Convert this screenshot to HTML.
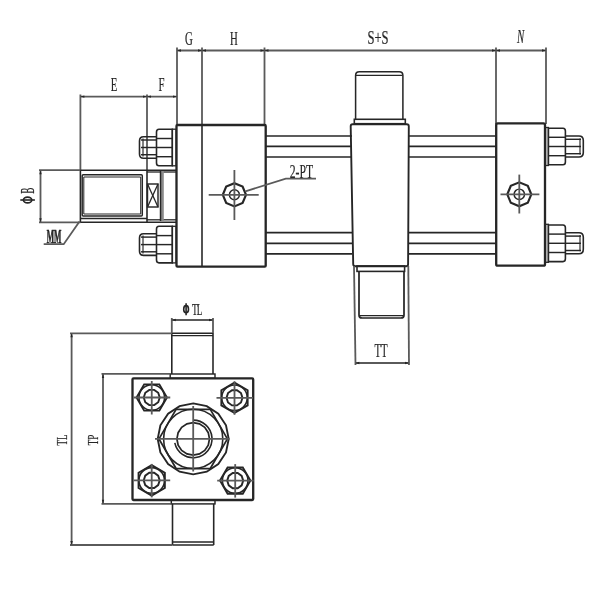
<!DOCTYPE html>
<html><head><meta charset="utf-8"><style>
html,body{margin:0;padding:0;background:#fff;}
body{width:600px;height:600px;overflow:hidden;font-family:"Liberation Serif",serif;}
svg{display:block;will-change:transform}
</style></head><body>
<svg width="600" height="600" viewBox="0 0 600 600">
<rect width="600" height="600" fill="#fff"/>
<g>
<line x1="177" y1="50.5" x2="546" y2="50.5" stroke="#5a5a5a" stroke-width="1.81" />
<line x1="177" y1="47.5" x2="177" y2="124" stroke="#5a5a5a" stroke-width="1.81" />
<line x1="264.5" y1="47.5" x2="264.5" y2="124" stroke="#5a5a5a" stroke-width="1.81" />
<line x1="496" y1="47.5" x2="496" y2="124" stroke="#5a5a5a" stroke-width="1.81" />
<line x1="546" y1="47.5" x2="546" y2="124" stroke="#5a5a5a" stroke-width="1.81" />
<line x1="202" y1="47.5" x2="202" y2="125" stroke="#5a5a5a" stroke-width="1.81" />
<line x1="202" y1="125" x2="202" y2="266" stroke="#262626" stroke-width="1.59" />
<polygon points="177.00,50.50 181.00,49.30 181.00,51.70" fill="#262626"/>
<polygon points="202.00,50.50 198.00,49.30 198.00,51.70" fill="#262626"/>
<polygon points="202.00,50.50 206.00,49.30 206.00,51.70" fill="#262626"/>
<polygon points="264.50,50.50 260.50,49.30 260.50,51.70" fill="#262626"/>
<polygon points="264.50,50.50 268.50,49.30 268.50,51.70" fill="#262626"/>
<polygon points="496.00,50.50 492.00,49.30 492.00,51.70" fill="#262626"/>
<polygon points="496.00,50.50 500.00,49.30 500.00,51.70" fill="#262626"/>
<polygon points="546.00,50.50 542.00,49.30 542.00,51.70" fill="#262626"/>
<text transform="translate(189,45) rotate(0) scale(0.6,1)" font-family="Liberation Serif" font-size="18" text-anchor="middle" fill="#262626" stroke="#262626" stroke-width="0.2" >G</text>
<text transform="translate(234,45) rotate(0) scale(0.6,1)" font-family="Liberation Serif" font-size="18" text-anchor="middle" fill="#262626" stroke="#262626" stroke-width="0.2" >H</text>
<text transform="translate(378,44) rotate(0) scale(0.7,1)" font-family="Liberation Serif" font-size="18" text-anchor="middle" fill="#262626" stroke="#262626" stroke-width="0.2" >S+S</text>
<text transform="translate(520.7,43) rotate(0) scale(0.6,1)" font-family="Liberation Serif" font-size="18" text-anchor="middle" fill="#262626" stroke="#262626" stroke-width="0.2" font-style="italic">N</text>
<line x1="80.4" y1="96.6" x2="177" y2="96.6" stroke="#5a5a5a" stroke-width="1.81" />
<line x1="80.4" y1="94.5" x2="80.4" y2="170" stroke="#5a5a5a" stroke-width="1.81" />
<line x1="80.4" y1="170" x2="80.4" y2="222.5" stroke="#262626" stroke-width="1.59" />
<line x1="147" y1="94.5" x2="147" y2="170" stroke="#5a5a5a" stroke-width="1.81" />
<line x1="147" y1="170" x2="147" y2="222.5" stroke="#262626" stroke-width="1.59" />
<polygon points="80.40,96.60 84.40,95.40 84.40,97.80" fill="#262626"/>
<polygon points="147.00,96.60 143.00,95.40 143.00,97.80" fill="#262626"/>
<polygon points="147.00,96.60 151.00,95.40 151.00,97.80" fill="#262626"/>
<polygon points="177.00,96.60 173.00,95.40 173.00,97.80" fill="#262626"/>
<text transform="translate(114,90.5) rotate(0) scale(0.6,1)" font-family="Liberation Serif" font-size="18" text-anchor="middle" fill="#262626" stroke="#262626" stroke-width="0.2" >E</text>
<text transform="translate(161.6,90.5) rotate(0) scale(0.6,1)" font-family="Liberation Serif" font-size="18" text-anchor="middle" fill="#262626" stroke="#262626" stroke-width="0.2" >F</text>
<line x1="39" y1="170.2" x2="80.4" y2="170.2" stroke="#5a5a5a" stroke-width="1.81" />
<line x1="80.4" y1="170.2" x2="176" y2="170.2" stroke="#262626" stroke-width="1.59" />
<line x1="39" y1="222.3" x2="80.4" y2="222.3" stroke="#5a5a5a" stroke-width="1.81" />
<line x1="80.4" y1="222.3" x2="176" y2="222.3" stroke="#262626" stroke-width="1.59" />
<line x1="40.5" y1="170.2" x2="40.5" y2="222.3" stroke="#5a5a5a" stroke-width="1.81" />
<polygon points="40.50,170.20 39.30,174.20 41.70,174.20" fill="#262626"/>
<polygon points="40.50,222.30 39.30,218.30 41.70,218.30" fill="#262626"/>
<text transform="translate(33.6,190.7) rotate(-90) scale(0.47,1)" font-family="Liberation Serif" font-size="19.4" text-anchor="middle" fill="#262626" stroke="#262626" stroke-width="0.2" >B</text>
<ellipse cx="27.6" cy="200" rx="4.2" ry="2.9" fill="none" stroke="#262626" stroke-width="1.6"/>
<line x1="20.3" y1="200" x2="34.9" y2="200" stroke="#262626" stroke-width="1.60" />
<text transform="translate(54,243) rotate(0) scale(0.4,1)" font-family="Liberation Serif" font-size="19.5" text-anchor="middle" fill="#262626"  font-weight="bold" stroke="#262626" stroke-width="0.7">MM</text>
<path d="M43.7,244.2 L63.7,244.2 L79.5,221.5" fill="none" stroke="#5a5a5a" stroke-width="1.81"/>
<rect x="82.2" y="174.8" width="60.1" height="41.2" rx="1" fill="none" stroke="#262626" stroke-width="1.45"/>
<line x1="83.8" y1="176.9" x2="140.7" y2="176.9" stroke="#262626" stroke-width="1.01" />
<line x1="83.8" y1="214.1" x2="140.7" y2="214.1" stroke="#262626" stroke-width="1.01" />
<line x1="83.8" y1="176.9" x2="83.8" y2="214.1" stroke="#262626" stroke-width="1.01" />
<line x1="140.7" y1="176.9" x2="140.7" y2="214.1" stroke="#262626" stroke-width="1.01" />
<line x1="80.4" y1="218.5" x2="147" y2="218.5" stroke="#262626" stroke-width="1.45" />
<line x1="147" y1="172" x2="176" y2="172" stroke="#262626" stroke-width="1.30" />
<line x1="147" y1="219.8" x2="176" y2="219.8" stroke="#262626" stroke-width="1.30" />
<rect x="147.5" y="184" width="10.5" height="23" rx="0" fill="none" stroke="#262626" stroke-width="1.45"/>
<line x1="147.5" y1="184" x2="158" y2="207" stroke="#262626" stroke-width="1.30" />
<line x1="158" y1="184" x2="147.5" y2="207" stroke="#262626" stroke-width="1.30" />
<rect x="160.5" y="171" width="3.3" height="50" fill="#8a8a8a"/>
<line x1="160.5" y1="171" x2="160.5" y2="221" stroke="#262626" stroke-width="1.45" />
<rect x="176.5" y="125" width="89.2" height="141.7" rx="1" fill="none" stroke="#262626" stroke-width="2.32"/>
<polygon points="246.00,194.80 242.60,203.00 234.40,206.40 226.20,203.00 222.80,194.80 226.20,186.60 234.40,183.20 242.60,186.60" fill="none" stroke="#262626" stroke-width="2.17"/>
<circle cx="234.4" cy="194.8" r="5.0" fill="none" stroke="#262626" stroke-width="1.45"/>
<line x1="208.7" y1="194.8" x2="258.7" y2="194.8" stroke="#5a5a5a" stroke-width="1.81" />
<line x1="234.4" y1="170" x2="234.4" y2="220" stroke="#5a5a5a" stroke-width="1.81" />
<path d="M245.4,191.3 L285.8,178.7 L316,178.7" fill="none" stroke="#5a5a5a" stroke-width="1.81"/>
<text transform="translate(301.4,177.6) rotate(0) scale(0.6,1)" font-family="Liberation Serif" font-size="19.5" text-anchor="middle" fill="#262626" stroke="#262626" stroke-width="0.2" >2-PT</text>
<line x1="265.6" y1="136" x2="352" y2="136" stroke="#262626" stroke-width="1.74" />
<line x1="408.5" y1="136" x2="496" y2="136" stroke="#262626" stroke-width="1.74" />
<line x1="265.6" y1="146.3" x2="352" y2="146.3" stroke="#262626" stroke-width="1.74" />
<line x1="408.5" y1="146.3" x2="496" y2="146.3" stroke="#262626" stroke-width="1.74" />
<line x1="265.6" y1="157" x2="352" y2="157" stroke="#262626" stroke-width="1.74" />
<line x1="408.5" y1="157" x2="496" y2="157" stroke="#262626" stroke-width="1.74" />
<line x1="265.6" y1="232.6" x2="352" y2="232.6" stroke="#262626" stroke-width="1.74" />
<line x1="408.5" y1="232.6" x2="496" y2="232.6" stroke="#262626" stroke-width="1.74" />
<line x1="265.6" y1="243.3" x2="352" y2="243.3" stroke="#262626" stroke-width="1.74" />
<line x1="408.5" y1="243.3" x2="496" y2="243.3" stroke="#262626" stroke-width="1.74" />
<line x1="265.6" y1="253.8" x2="352" y2="253.8" stroke="#262626" stroke-width="1.74" />
<line x1="408.5" y1="253.8" x2="496" y2="253.8" stroke="#262626" stroke-width="1.74" />
<path d="M352.5,124.2 L406.8,124.2 Q408.8,124.2 408.8,126.2 L408.1,264.2 Q408.1,266.2 406.1,266.2 L355.3,266.2 Q353.3,266.2 353.2,264.2 L350.7,126.2 Q350.7,124.2 352.5,124.2 Z" fill="none" stroke="#262626" stroke-width="1.89"/>
<path d="M355.6,119.3 L355.6,75.5 Q355.6,71.8 359.3,71.8 L399.2,71.8 Q402.9,71.8 402.9,75.5 L402.9,119.3" fill="none" stroke="#262626" stroke-width="1.52"/>
<line x1="356" y1="75.4" x2="402.5" y2="75.4" stroke="#262626" stroke-width="1.16" />
<rect x="354.3" y="119.3" width="51" height="4.4" rx="0" fill="none" stroke="#262626" stroke-width="1.59"/>
<rect x="357" y="266" width="47.6" height="5.4" rx="0" fill="none" stroke="#262626" stroke-width="1.59"/>
<path d="M359,271.4 L359,315 Q359,318 362,318 L401,318 Q404,318 404,315 L404,271.4" fill="none" stroke="#262626" stroke-width="1.74"/>
<line x1="359.5" y1="315.6" x2="403.5" y2="315.6" stroke="#262626" stroke-width="1.45" />
<line x1="354" y1="266" x2="355.5" y2="365" stroke="#5a5a5a" stroke-width="1.81" />
<line x1="408.3" y1="266" x2="409" y2="365" stroke="#5a5a5a" stroke-width="1.81" />
<line x1="355.3" y1="363" x2="409" y2="363" stroke="#5a5a5a" stroke-width="1.81" />
<polygon points="355.30,363.00 359.30,361.80 359.30,364.20" fill="#262626"/>
<polygon points="409.00,363.00 405.00,361.80 405.00,364.20" fill="#262626"/>
<text transform="translate(381,356.5) rotate(0) scale(0.6,1)" font-family="Liberation Serif" font-size="18" text-anchor="middle" fill="#262626" stroke="#262626" stroke-width="0.2" >TT</text>
<rect x="496.2" y="123.4" width="48.8" height="142.3" rx="1.5" fill="none" stroke="#262626" stroke-width="2.32"/>
<polygon points="531.30,194.30 527.79,202.79 519.30,206.30 510.81,202.79 507.30,194.30 510.81,185.81 519.30,182.30 527.79,185.81" fill="none" stroke="#262626" stroke-width="2.17"/>
<circle cx="519.3" cy="194.3" r="5.2" fill="none" stroke="#262626" stroke-width="1.45"/>
<line x1="500.5" y1="194.3" x2="539.4" y2="194.3" stroke="#5a5a5a" stroke-width="1.81" />
<line x1="519.3" y1="174.6" x2="519.3" y2="213.5" stroke="#5a5a5a" stroke-width="1.81" />
<rect x="545.6" y="127.5" width="2.8" height="38" rx="0" fill="none" stroke="#262626" stroke-width="1.30"/>
<path d="M548.4,128.2 L563,128.2 Q565.4,128.2 565.4,131.0 L565.4,162.0 Q565.4,164.8 563,164.8 L548.4,164.8 Z" fill="none" stroke="#262626" stroke-width="1.59"/>
<line x1="548.4" y1="137.3" x2="565.4" y2="137.3" stroke="#262626" stroke-width="1.45" />
<line x1="548.4" y1="146.5" x2="565.4" y2="146.5" stroke="#262626" stroke-width="1.45" />
<line x1="548.4" y1="155.7" x2="565.4" y2="155.7" stroke="#262626" stroke-width="1.45" />
<path d="M565.4,136.0 L579,136.0 Q583.3,136.0 583.3,140.5 L583.3,152.5 Q583.3,157.0 579,157.0 L565.4,157.0" fill="none" stroke="#262626" stroke-width="1.59"/>
<line x1="580" y1="138.5" x2="580" y2="154.5" stroke="#262626" stroke-width="1.16" />
<line x1="565.4" y1="139.3" x2="581" y2="139.3" stroke="#262626" stroke-width="1.45" />
<line x1="565.4" y1="146.5" x2="581" y2="146.5" stroke="#262626" stroke-width="1.45" />
<line x1="565.4" y1="153.7" x2="581" y2="153.7" stroke="#262626" stroke-width="1.45" />
<rect x="545.6" y="224.3" width="2.8" height="38" rx="0" fill="none" stroke="#262626" stroke-width="1.30"/>
<path d="M548.4,225.0 L563,225.0 Q565.4,225.0 565.4,227.8 L565.4,258.8 Q565.4,261.6 563,261.6 L548.4,261.6 Z" fill="none" stroke="#262626" stroke-width="1.59"/>
<line x1="548.4" y1="234.10000000000002" x2="565.4" y2="234.10000000000002" stroke="#262626" stroke-width="1.45" />
<line x1="548.4" y1="243.3" x2="565.4" y2="243.3" stroke="#262626" stroke-width="1.45" />
<line x1="548.4" y1="252.5" x2="565.4" y2="252.5" stroke="#262626" stroke-width="1.45" />
<path d="M565.4,232.8 L579,232.8 Q583.3,232.8 583.3,237.3 L583.3,249.3 Q583.3,253.8 579,253.8 L565.4,253.8" fill="none" stroke="#262626" stroke-width="1.59"/>
<line x1="580" y1="235.3" x2="580" y2="251.3" stroke="#262626" stroke-width="1.16" />
<line x1="565.4" y1="236.10000000000002" x2="581" y2="236.10000000000002" stroke="#262626" stroke-width="1.45" />
<line x1="565.4" y1="243.3" x2="581" y2="243.3" stroke="#262626" stroke-width="1.45" />
<line x1="565.4" y1="250.5" x2="581" y2="250.5" stroke="#262626" stroke-width="1.45" />
<rect x="172.3" y="129.2" width="3.8" height="36.6" rx="0" fill="none" stroke="#262626" stroke-width="1.30"/>
<path d="M172.3,129.2 L159,129.2 Q156.5,129.2 156.5,132.0 L156.5,163.0 Q156.5,165.8 159,165.8 L172.3,165.8 Z" fill="none" stroke="#262626" stroke-width="1.59"/>
<line x1="156.5" y1="138.5" x2="172.3" y2="138.5" stroke="#262626" stroke-width="1.45" />
<line x1="156.5" y1="147.5" x2="172.3" y2="147.5" stroke="#262626" stroke-width="1.45" />
<line x1="156.5" y1="156.7" x2="172.3" y2="156.7" stroke="#262626" stroke-width="1.45" />
<path d="M156.5,136.7 L143.5,136.7 Q139.5,136.7 139.5,141.0 L139.5,154.0 Q139.5,158.3 143.5,158.3 L156.5,158.3" fill="none" stroke="#262626" stroke-width="1.59"/>
<line x1="143" y1="138.5" x2="143" y2="156.5" stroke="#262626" stroke-width="1.16" />
<line x1="141" y1="140.0" x2="156.5" y2="140.0" stroke="#262626" stroke-width="1.45" />
<line x1="141" y1="147.5" x2="156.5" y2="147.5" stroke="#262626" stroke-width="1.45" />
<line x1="141" y1="154.7" x2="156.5" y2="154.7" stroke="#262626" stroke-width="1.45" />
<rect x="172.3" y="226.29999999999998" width="3.8" height="36.6" rx="0" fill="none" stroke="#262626" stroke-width="1.30"/>
<path d="M172.3,226.29999999999998 L159,226.29999999999998 Q156.5,226.29999999999998 156.5,229.1 L156.5,260.1 Q156.5,262.9 159,262.9 L172.3,262.9 Z" fill="none" stroke="#262626" stroke-width="1.59"/>
<line x1="156.5" y1="235.6" x2="172.3" y2="235.6" stroke="#262626" stroke-width="1.45" />
<line x1="156.5" y1="244.6" x2="172.3" y2="244.6" stroke="#262626" stroke-width="1.45" />
<line x1="156.5" y1="253.79999999999998" x2="172.3" y2="253.79999999999998" stroke="#262626" stroke-width="1.45" />
<path d="M156.5,233.79999999999998 L143.5,233.79999999999998 Q139.5,233.79999999999998 139.5,238.1 L139.5,251.1 Q139.5,255.4 143.5,255.4 L156.5,255.4" fill="none" stroke="#262626" stroke-width="1.59"/>
<line x1="143" y1="235.6" x2="143" y2="253.6" stroke="#262626" stroke-width="1.16" />
<line x1="141" y1="237.1" x2="156.5" y2="237.1" stroke="#262626" stroke-width="1.45" />
<line x1="141" y1="244.6" x2="156.5" y2="244.6" stroke="#262626" stroke-width="1.45" />
<line x1="141" y1="251.79999999999998" x2="156.5" y2="251.79999999999998" stroke="#262626" stroke-width="1.45" />
<rect x="132.5" y="378.4" width="120.7" height="121.6" rx="1" fill="none" stroke="#262626" stroke-width="2.32"/>
<line x1="171.8" y1="333" x2="171.8" y2="374" stroke="#262626" stroke-width="1.59" />
<line x1="213" y1="333" x2="213" y2="374" stroke="#262626" stroke-width="1.59" />
<line x1="171.8" y1="335.6" x2="213" y2="335.6" stroke="#262626" stroke-width="1.45" />
<line x1="171.8" y1="333.3" x2="213" y2="333.3" stroke="#262626" stroke-width="1.45" />
<rect x="170.2" y="374" width="44.8" height="4.3" rx="0" fill="none" stroke="#262626" stroke-width="1.45"/>
<rect x="171.3" y="500" width="43.7" height="3.9" rx="0" fill="none" stroke="#262626" stroke-width="1.45"/>
<line x1="172.5" y1="503.9" x2="172.5" y2="545" stroke="#262626" stroke-width="1.59" />
<line x1="213.7" y1="503.9" x2="213.7" y2="545" stroke="#262626" stroke-width="1.59" />
<line x1="172.5" y1="542" x2="213.7" y2="542" stroke="#262626" stroke-width="1.45" />
<line x1="172.5" y1="545" x2="213.7" y2="545" stroke="#262626" stroke-width="1.45" />
<line x1="171.8" y1="318" x2="171.8" y2="333" stroke="#5a5a5a" stroke-width="1.81" />
<line x1="213" y1="318" x2="213" y2="333" stroke="#5a5a5a" stroke-width="1.81" />
<line x1="171.8" y1="320" x2="213" y2="320" stroke="#5a5a5a" stroke-width="1.81" />
<polygon points="171.80,320.00 175.80,318.80 175.80,321.20" fill="#262626"/>
<polygon points="213.00,320.00 209.00,318.80 209.00,321.20" fill="#262626"/>
<text transform="translate(196.8,314.5) rotate(0) scale(0.55,1)" font-family="Liberation Serif" font-size="17" text-anchor="middle" fill="#262626" stroke="#262626" stroke-width="0.2" letter-spacing="-1.5">TL</text>
<ellipse cx="186.1" cy="309.2" rx="2.4" ry="3.6" fill="none" stroke="#262626" stroke-width="1.6"/>
<line x1="186.1" y1="303.2" x2="186.1" y2="315.2" stroke="#262626" stroke-width="1.60" />
<line x1="70" y1="333.3" x2="172" y2="333.3" stroke="#5a5a5a" stroke-width="1.81" />
<line x1="70" y1="545" x2="172.5" y2="545" stroke="#5a5a5a" stroke-width="1.81" />
<line x1="71.6" y1="333.3" x2="71.6" y2="545" stroke="#5a5a5a" stroke-width="1.81" />
<polygon points="71.60,333.30 70.40,337.30 72.80,337.30" fill="#262626"/>
<polygon points="71.60,545.00 70.40,541.00 72.80,541.00" fill="#262626"/>
<text transform="translate(66.5,440) rotate(-90) scale(0.6,1)" font-family="Liberation Serif" font-size="15" text-anchor="middle" fill="#262626" stroke="#262626" stroke-width="0.2" >TL</text>
<line x1="101.5" y1="373.9" x2="170.2" y2="373.9" stroke="#5a5a5a" stroke-width="1.81" />
<line x1="101.5" y1="503.8" x2="171.3" y2="503.8" stroke="#5a5a5a" stroke-width="1.81" />
<line x1="103" y1="373.9" x2="103" y2="503.8" stroke="#5a5a5a" stroke-width="1.81" />
<polygon points="103.00,373.90 101.80,377.90 104.20,377.90" fill="#262626"/>
<polygon points="103.00,503.80 101.80,499.80 104.20,499.80" fill="#262626"/>
<text transform="translate(97.5,440) rotate(-90) scale(0.6,1)" font-family="Liberation Serif" font-size="15" text-anchor="middle" fill="#262626" stroke="#262626" stroke-width="0.2" >TP</text>
<polygon points="166.95,397.50 159.35,410.66 144.15,410.66 136.55,397.50 144.15,384.34 159.35,384.34" fill="none" stroke="#262626" stroke-width="1.89"/>
<circle cx="151.75" cy="397.5" r="12.8" fill="none" stroke="#262626" stroke-width="1.59"/>
<polygon points="159.75,397.50 158.22,402.20 154.22,405.11 149.28,405.11 145.28,402.20 143.75,397.50 145.28,392.80 149.28,389.89 154.22,389.89 158.22,392.80" fill="none" stroke="#262626" stroke-width="1.89"/>
<line x1="133.75" y1="397.5" x2="170.25" y2="397.5" stroke="#5a5a5a" stroke-width="1.81" />
<line x1="151.75" y1="381.0" x2="151.75" y2="414.5" stroke="#5a5a5a" stroke-width="1.81" />
<polygon points="247.66,405.40 234.50,413.00 221.34,405.40 221.34,390.20 234.50,382.60 247.66,390.20" fill="none" stroke="#262626" stroke-width="1.89"/>
<circle cx="234.5" cy="397.8" r="12.8" fill="none" stroke="#262626" stroke-width="1.59"/>
<polygon points="242.50,397.80 240.97,402.50 236.97,405.41 232.03,405.41 228.03,402.50 226.50,397.80 228.03,393.10 232.03,390.19 236.97,390.19 240.97,393.10" fill="none" stroke="#262626" stroke-width="1.89"/>
<line x1="216.5" y1="397.8" x2="253.0" y2="397.8" stroke="#5a5a5a" stroke-width="1.81" />
<line x1="234.5" y1="381.3" x2="234.5" y2="414.8" stroke="#5a5a5a" stroke-width="1.81" />
<polygon points="164.86,488.00 151.70,495.60 138.54,488.00 138.54,472.80 151.70,465.20 164.86,472.80" fill="none" stroke="#262626" stroke-width="1.89"/>
<circle cx="151.7" cy="480.4" r="12.8" fill="none" stroke="#262626" stroke-width="1.59"/>
<polygon points="159.70,480.40 158.17,485.10 154.17,488.01 149.23,488.01 145.23,485.10 143.70,480.40 145.23,475.70 149.23,472.79 154.17,472.79 158.17,475.70" fill="none" stroke="#262626" stroke-width="1.89"/>
<line x1="133.7" y1="480.4" x2="170.2" y2="480.4" stroke="#5a5a5a" stroke-width="1.81" />
<line x1="151.7" y1="463.9" x2="151.7" y2="497.4" stroke="#5a5a5a" stroke-width="1.81" />
<polygon points="250.40,480.60 242.80,493.76 227.60,493.76 220.00,480.60 227.60,467.44 242.80,467.44" fill="none" stroke="#262626" stroke-width="1.89"/>
<circle cx="235.2" cy="480.6" r="12.8" fill="none" stroke="#262626" stroke-width="1.59"/>
<polygon points="243.20,480.60 241.67,485.30 237.67,488.21 232.73,488.21 228.73,485.30 227.20,480.60 228.73,475.90 232.73,472.99 237.67,472.99 241.67,475.90" fill="none" stroke="#262626" stroke-width="1.89"/>
<line x1="217.2" y1="480.6" x2="253.7" y2="480.6" stroke="#5a5a5a" stroke-width="1.81" />
<line x1="235.2" y1="464.1" x2="235.2" y2="497.6" stroke="#5a5a5a" stroke-width="1.81" />
<polygon points="193.20,403.40 206.79,406.10 218.30,413.80 226.00,425.31 228.70,438.90 226.00,452.49 218.30,464.00 206.79,471.70 193.20,474.40 179.61,471.70 168.10,464.00 160.40,452.49 157.70,438.90 160.40,425.31 168.10,413.80 179.61,406.10" fill="none" stroke="#262626" stroke-width="1.89"/>
<polygon points="227.40,438.90 210.30,468.52 176.10,468.52 159.00,438.90 176.10,409.28 210.30,409.28" fill="none" stroke="#262626" stroke-width="1.74"/>
<circle cx="193.2" cy="438.9" r="29.6" fill="none" stroke="#262626" stroke-width="1.59"/>
<polygon points="209.50,438.90 208.26,445.14 204.73,450.43 199.44,453.96 193.20,455.20 186.96,453.96 181.67,450.43 178.14,445.14 176.90,438.90 178.14,432.66 181.67,427.37 186.96,423.84 193.20,422.60 199.44,423.84 204.73,427.37 208.26,432.66" fill="none" stroke="#262626" stroke-width="1.74"/>
<path d="M193.20,420.10 A18.8,18.8 0 1 1 174.81,442.81" fill="none" stroke="#262626" stroke-width="1.59"/>
<line x1="155" y1="438.9" x2="229.5" y2="438.9" stroke="#5a5a5a" stroke-width="1.81" />
<line x1="193.2" y1="406" x2="193.2" y2="471.5" stroke="#5a5a5a" stroke-width="1.81" />
</g>
</svg>
</body></html>
